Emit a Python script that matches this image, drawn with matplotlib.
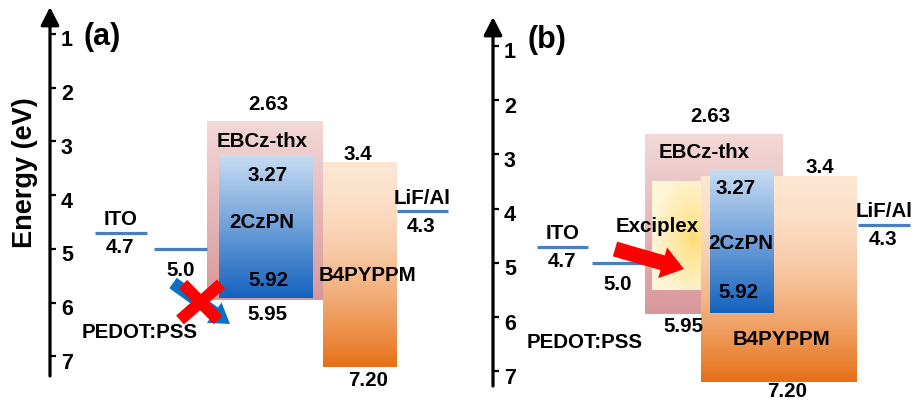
import numpy as np
import matplotlib
matplotlib.use("Agg")
import matplotlib.pyplot as plt
from matplotlib import colors as mcolors

plt.rcParams["font.family"] = ["Liberation Sans", "DejaVu Sans"]
plt.rcParams["font.weight"] = "bold"

# ---- energy-level data (eV) ----
energy_ticks = [1, 2, 3, 4, 5, 6, 7]
electrodes = ["ITO", "PEDOT:PSS", "LiF/Al"]
electrode_levels = [4.7, 5.0, 4.3]
electrode_labels = ["4.7", "5.0", "4.3"]
layers = ["EBCz-thx", "2CzPN", "B4PYPPM"]
lumo_levels = [2.63, 3.27, 3.4]
homo_levels = [5.95, 5.92, 7.20]
lumo_labels = ["2.63", "3.27", "3.4"]
homo_labels = ["5.95", "5.92", "7.20"]
exciplex_band = [3.5, 5.5]

# ---- styling ----
LINE_BLUE = "#4a7ec1"
layer_colors = {
    "EBCz-thx": ("#f3d8d8", "#d8979a", 1.0),
    "2CzPN": ("#c8dcf2", "#1563bf", 1.0),
    "B4PYPPM": ("#fde6d2", "#e66f16", 1.7),
}
FS = 14.8

W, H, DPI = 914, 402, 100
fig = plt.figure(figsize=(W / DPI, H / DPI), dpi=DPI)

# panel layout in pixel units
panels = [
    dict(tag="(a)", tag_pos=(102, 37), xr=(0, 457), y_one=35, s=53.7,
         axis_x=50, axis_top=8, axis_bot=377,
         layer_x=[(207, 323), (219, 313), (323, 397)], layer_z=[1, 2, 1],
         lumo_pos=[(268, 105), (268, 176), (358, 155)],
         homo_pos=[(267, 315), (268, 281), (368, 381)],
         name_pos=[(262, 142), (262, 223), (367, 276)],
         elec_x=[(95, 147), (154, 207), (397, 448)],
         pedot_pos=(140, 333), exciplex=None),
    dict(tag="(b)", tag_pos=(547, 40), xr=(457, 914), y_one=47, s=54.2,
         axis_x=493, axis_top=18, axis_bot=387,
         layer_x=[(645, 783), (710, 774), (701, 857)], layer_z=[1, 4, 3],
         lumo_pos=[(710, 116), (736, 188), (820, 168)],
         homo_pos=[(683, 327), (738, 292), (787, 392)],
         name_pos=[(704, 152), (741, 244), (781, 340)],
         elec_x=[(537, 588), (592, 644), (858, 910)],
         pedot_pos=(585, 343), exciplex=(652, 705)),
]


def vgradient(ax, x0, x1, top, bottom, c_top, c_bot, gamma, z):
    t = np.linspace(0, 1, 256)[:, None, None] ** gamma
    ct = np.array(mcolors.to_rgb(c_top))
    cb = np.array(mcolors.to_rgb(c_bot))
    img = ct * (1 - t) + cb * t
    ax.imshow(img, extent=(x0, x1, bottom, top), origin="upper",
              aspect="auto", interpolation="bilinear", zorder=z)


for p in panels:
    x0f = p["xr"][0] / W
    wf = (p["xr"][1] - p["xr"][0]) / W
    ax = fig.add_axes([x0f, 0, wf, 1])
    ax.patch.set_alpha(0)
    y1, s = p["y_one"], p["s"]

    def ev(py, y1=y1, s=s):
        return 1 + (py - y1) / s

    # organic layers
    for i, name in enumerate(layers):
        xa, xb = p["layer_x"][i]
        c_top, c_bot, g = layer_colors[name]
        vgradient(ax, xa, xb, lumo_levels[i], homo_levels[i], c_top, c_bot, g,
                  p["layer_z"][i])
        lx, ly = p["lumo_pos"][i]
        ax.text(lx, ev(ly), lumo_labels[i], ha="center", va="center",
                fontsize=FS, zorder=10)
        hx, hy = p["homo_pos"][i]
        ax.text(hx, ev(hy), homo_labels[i], ha="center", va="center",
                fontsize=FS, zorder=10)
        nx_, ny_ = p["name_pos"][i]
        ax.text(nx_, ev(ny_), name, ha="center", va="center",
                fontsize=FS, zorder=10)

    # exciplex band with radial glow
    if p["exciplex"] is not None:
        xa, xb = p["exciplex"]
        yy, xx = np.mgrid[0:1:160j, 0:1:80j]
        d = np.sqrt(((xx - 0.78) / 0.8) ** 2 + ((yy - 0.52) / 0.62) ** 2)
        d = np.clip(d, 0, 1)[..., None] ** 0.7
        cen = np.array([253, 219, 105]) / 255
        edg = np.array([255, 245, 216]) / 255
        img = cen * (1 - d) + edg * d
        ax.imshow(img, extent=(xa, xb, exciplex_band[1], exciplex_band[0]),
                  origin="upper", aspect="auto", interpolation="bilinear",
                  zorder=2)
        ax.text(657, ev(226), "Exciplex", ha="center", va="center",
                fontsize=FS, zorder=10)
        ax.annotate("", xy=(684, ev(270)), xytext=(615, ev(250)),
                    arrowprops=dict(arrowstyle="simple,head_length=0.8,"
                                    "head_width=1.15,tail_width=0.55",
                                    color="#ff0000", lw=0, mutation_scale=20,
                                    shrinkA=0, shrinkB=0), zorder=11)

    # electrode work functions
    for i, name in enumerate(electrodes):
        xa, xb = p["elec_x"][i]
        v = electrode_levels[i]
        ax.plot([xa, xb], [v, v], color=LINE_BLUE, lw=2.3,
                solid_capstyle="butt", zorder=5)
        xc = (xa + xb) / 2
        if name == "PEDOT:PSS":
            px, py = p["pedot_pos"]
            ax.text(px, ev(py), name, ha="center", va="center", fontsize=FS)
            ax.annotate(electrode_labels[i], xy=(xc, v), xytext=(0, -21),
                        textcoords="offset pixels", ha="center", va="center",
                        fontsize=FS)
        else:
            ax.annotate(name, xy=(xc, v), xytext=(0, 14),
                        textcoords="offset pixels", ha="center", va="center",
                        fontsize=FS)
            ax.annotate(electrode_labels[i], xy=(xc, v), xytext=(-1, -14),
                        textcoords="offset pixels", ha="center", va="center",
                        fontsize=FS)

    # blocked hole-injection path in (a)
    if p["exciplex"] is None:
        ax.annotate("", xy=(230, ev(325)), xytext=(173, ev(284)),
                    arrowprops=dict(arrowstyle="simple,head_length=0.7,"
                                    "head_width=0.9,tail_width=0.46",
                                    color="#0a70c4", lw=0, mutation_scale=20,
                                    shrinkA=0, shrinkB=0), zorder=11)
        ax.plot([183, 218], [ev(285), ev(321)], color="#ff0000", lw=8.5,
                solid_capstyle="butt", zorder=12)
        ax.plot([180, 221], [ev(321), ev(285)], color="#ff0000", lw=8.5,
                solid_capstyle="butt", zorder=12)

    # vertical energy axis with arrow
    axx = p["axis_x"]
    ax.annotate("", xy=(axx, ev(p["axis_top"])), xytext=(axx, ev(p["axis_bot"])),
                arrowprops=dict(arrowstyle="-|>,head_length=0.55,head_width=0.28",
                                color="k", lw=2.3, mutation_scale=20,
                                shrinkA=0, shrinkB=0), zorder=20)
    for t in energy_ticks:
        ax.plot([axx, axx + 6], [t, t], color="k", lw=1.6,
                solid_capstyle="butt", zorder=20)
        ax.text(axx + 11, ev(y1 + (t - 1) * s + 6), str(t), ha="left",
                va="center", fontsize=15.5)

    ax.text(p["tag_pos"][0], ev(p["tag_pos"][1]), p["tag"], ha="center",
            va="center", fontsize=22)
    if p["tag"] == "(a)":
        ax.text(25, ev(173), "Energy (eV)", rotation=90, ha="center",
                va="center", fontsize=19.5)

    ax.set_xlim(*p["xr"])
    ax.set_ylim(ev(H), ev(0))
    ax.set_axis_off()

fig.savefig("out.png", dpi=DPI)
